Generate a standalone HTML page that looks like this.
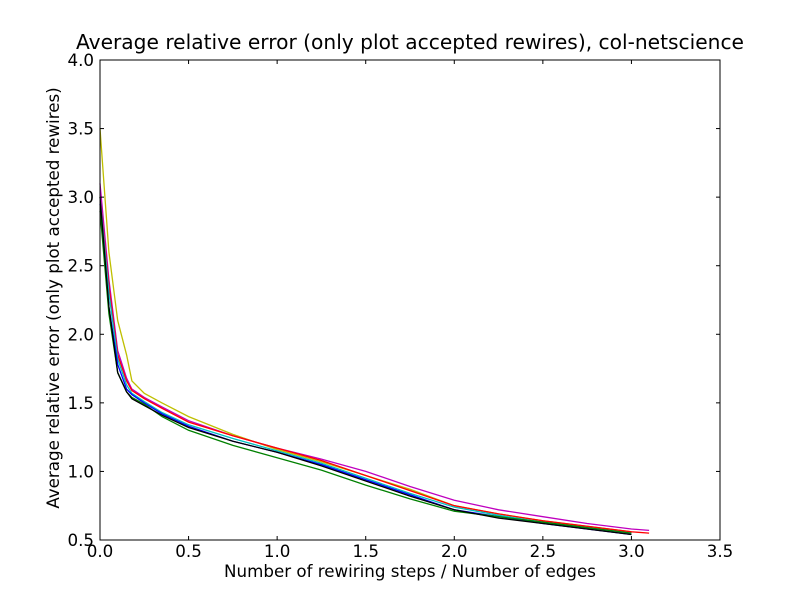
<!DOCTYPE html>
<html><head><meta charset="utf-8"><style>
body{margin:0;background:#fff;width:800px;height:600px;overflow:hidden}
svg text{font-family:"DejaVu Sans","Liberation Sans",sans-serif;fill:#000}
</style></head><body>
<svg id="chart" width="800" height="600">
<rect x="0" y="0" width="800" height="600" fill="#fff"/>
<text x="410" y="49" font-size="20.2" text-anchor="middle">Average relative error (only plot accepted rewires), col-netscience</text>
<text x="410" y="577" font-size="16.7" text-anchor="middle">Number of rewiring steps / Number of edges</text>
<text transform="translate(59,298) rotate(-90)" font-size="16.7" text-anchor="middle">Average relative error (only plot accepted rewires)</text>
<g id="series"></g>
<g id="axes"></g>
</svg>
<script>
const xs=[0,0.05,0.1,0.15,0.18,0.25,0.35,0.5,0.75,1.0,1.25,1.5,1.75,2.0,2.25,2.5,2.75,3.0,3.1];
const yBlack=[3.0,2.2,1.72,1.58,1.53,1.48,1.41,1.32,1.22,1.14,1.04,0.93,0.82,0.72,0.66,0.62,0.58,0.54,null];
const yGreen=[2.9,2.15,1.72,1.58,1.54,1.49,1.40,1.30,1.19,1.10,1.01,0.90,0.80,0.71,0.67,0.63,0.59,0.55,null];
const yBlue=[2.95,2.2,1.78,1.6,1.56,1.50,1.42,1.33,1.22,1.14,1.05,0.94,0.83,0.72,0.67,0.62,0.58,0.54,null];
const yCyan=[3.0,2.3,1.82,1.63,1.57,1.51,1.43,1.34,1.24,1.15,1.06,0.95,0.84,0.74,0.68,0.63,0.59,0.55,null];
const yRed=[3.0,2.35,1.85,1.66,1.59,1.53,1.46,1.36,1.26,1.17,1.08,0.97,0.86,0.75,0.69,0.64,0.60,0.56,0.55];
const yMagenta=[3.1,2.4,1.88,1.68,1.60,1.54,1.47,1.37,1.26,1.17,1.09,1.0,0.89,0.79,0.72,0.67,0.62,0.58,0.57];
const yYellow=[3.5,2.6,2.1,1.85,1.66,1.57,1.50,1.40,1.27,1.16,1.07,0.97,0.87,0.75,0.69,0.64,0.60,0.56,null];
const seriesData=[["black",yBlack,"#000000"],["green",yGreen,"#008000"],["blue",yBlue,"#0000ff"],["cyan",yCyan,"#00bfbf"],["red",yRed,"#ff0000"],["magenta",yMagenta,"#bf00bf"],["yellow",yYellow,"#bfbf00"]];
const xTicks=[0,0.5,1,1.5,2,2.5,3,3.5];
const xTickLabels=["0.0","0.5","1.0","1.5","2.0","2.5","3.0","3.5"];
const yTicks=[0.5,1,1.5,2,2.5,3,3.5,4];
const yTickLabels=["0.5","1.0","1.5","2.0","2.5","3.0","3.5","4.0"];
const L=100,R=720,T=60,B=540;
const sx=v=>L+(v-0)/3.5*(R-L);
const sy=v=>B-(v-0.5)/3.5*(B-T);
const NS="http://www.w3.org/2000/svg";
const sg=document.getElementById('series');
seriesData.slice().reverse().forEach(([n,ys,c])=>{
  let pts=[];ys.forEach((y,i)=>{if(y!=null)pts.push(sx(xs[i]).toFixed(1)+","+sy(y).toFixed(1));});
  const p=document.createElementNS(NS,'polyline');
  p.setAttribute('points',pts.join(' '));p.setAttribute('fill','none');p.setAttribute('stroke',c);p.setAttribute('stroke-width','1.3');
  
  
  sg.appendChild(p);
});
const ag=document.getElementById('axes');
const fr=document.createElementNS(NS,'rect');
fr.setAttribute('x',L);fr.setAttribute('y',T);fr.setAttribute('width',R-L);fr.setAttribute('height',B-T);fr.setAttribute('fill','none');fr.setAttribute('stroke','#000');


ag.appendChild(fr);
function ln(x1,y1,x2,y2){const l=document.createElementNS(NS,'line');l.setAttribute('x1',x1);l.setAttribute('y1',y1);l.setAttribute('x2',x2);l.setAttribute('y2',y2);l.setAttribute('stroke','#000');ag.appendChild(l);return l;}
xTicks.forEach((v,i)=>{const x=sx(v);
  const a=ln(x,B,x,B-4);
  ln(x,T,x,T+4);
  const t=document.createElementNS(NS,'text');t.setAttribute('x',x);t.setAttribute('y',B+17);t.setAttribute('font-size','16.7');t.setAttribute('text-anchor','middle');t.textContent=xTickLabels[i];
  
  
  ag.appendChild(t);});
yTicks.forEach((v,i)=>{const y=sy(v);
  const a=ln(L,y,L+4,y);
  ln(R,y,R-4,y);
  const t=document.createElementNS(NS,'text');t.setAttribute('x',L-6);t.setAttribute('y',y+6);t.setAttribute('font-size','16.7');t.setAttribute('text-anchor','end');t.textContent=yTickLabels[i];
  
  
  ag.appendChild(t);});
</script>
</body></html>
